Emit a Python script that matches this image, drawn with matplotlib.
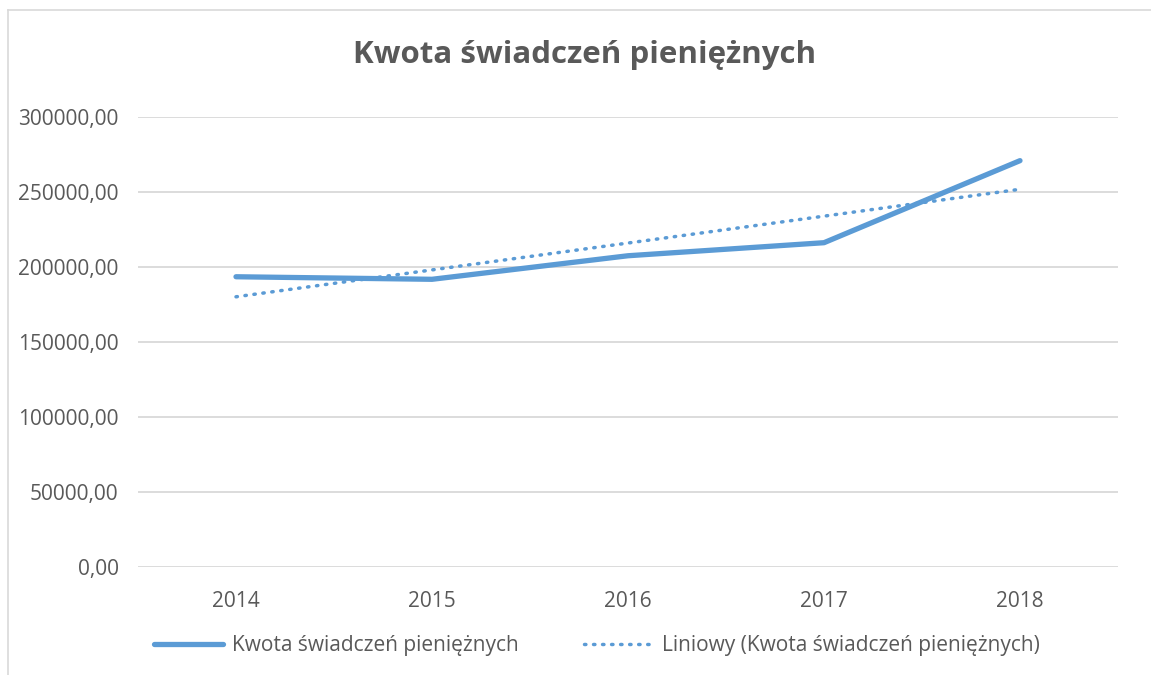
import numpy as np
import matplotlib
matplotlib.use("Agg")
import matplotlib.pyplot as plt
from matplotlib.lines import Line2D

# Data
years = ["2014", "2015", "2016", "2017", "2018"]
values = [193500, 191800, 207500, 216200, 270900]
y_ticks = [0, 50000, 100000, 150000, 200000, 250000, 300000]
title = "Kwota świadczeń pieniężnych"
series_label = "Kwota świadczeń pieniężnych"
trend_label = "Liniowy (Kwota świadczeń pieniężnych)"

BLUE = "#5B9BD5"
TXT = "#595959"
GRID = "#D9D9D9"
FONT = ["Open Sans", "DejaVu Sans"]
plt.rcParams["font.family"] = FONT

W, H = 1151, 675
fig = plt.figure(figsize=(W / 100, H / 100), dpi=100)
fig.patch.set_facecolor("white")

left, right, top, bottom = 138, 1118, 117, 567
ax = fig.add_axes([left / W, 1 - bottom / H, (right - left) / W, (bottom - top) / H])

x = np.arange(len(years))
ax.plot(x, values, color=BLUE, lw=3.8, solid_capstyle="round", solid_joinstyle="round", zorder=3)

# linear trend (least squares on category index)
coef = np.polyfit(x, values, 1)
trend = np.polyval(coef, x)
DOT = (0, (0.4, 2.2))
ax.plot(x, trend, color=BLUE, lw=2.5, linestyle=DOT, dash_capstyle="round", zorder=4)

ax.set_xlim(-0.5, len(years) - 0.5)
ax.set_ylim(0, 300000)
ax.set_yticks(y_ticks)
ax.set_yticklabels([f"{v:.2f}".replace(".", ",") for v in y_ticks], color=TXT, fontsize=15)
ax.set_xticks(x)
ax.set_xticklabels(years, color=TXT, fontsize=15)
ax.tick_params(axis="both", length=0)
ax.tick_params(axis="y", pad=14)
ax.tick_params(axis="x", pad=17)
for s in ax.spines.values():
    s.set_visible(False)
ax.grid(axis="y", color=GRID, lw=1.3)
ax.set_axisbelow(True)

fig.text(585 / W, 1 - 55 / H, title, ha="center", va="center", fontsize=22.5, fontweight="bold", color=TXT)

# chart frame (left and top edges visible)
fig.add_artist(Line2D([8 / W, 8 / W], [0, 1 - 10 / H], color=GRID, lw=1.2))
fig.add_artist(Line2D([8 / W, 1], [1 - 10 / H, 1 - 10 / H], color=GRID, lw=1.2))

h1 = Line2D([], [], color=BLUE, lw=3.8, solid_capstyle="round")
h2 = Line2D([], [], color=BLUE, lw=2.5, linestyle=DOT, dash_capstyle="round")
fig.legend([h1, h2], [series_label, trend_label], loc="center", bbox_to_anchor=(597 / W, 1 - 646 / H),
           ncol=2, frameon=False, fontsize=15, labelcolor=TXT, handlelength=3.3,
           handletextpad=0.45, columnspacing=3.1)

fig.savefig("out.png", dpi=100, facecolor="white")
